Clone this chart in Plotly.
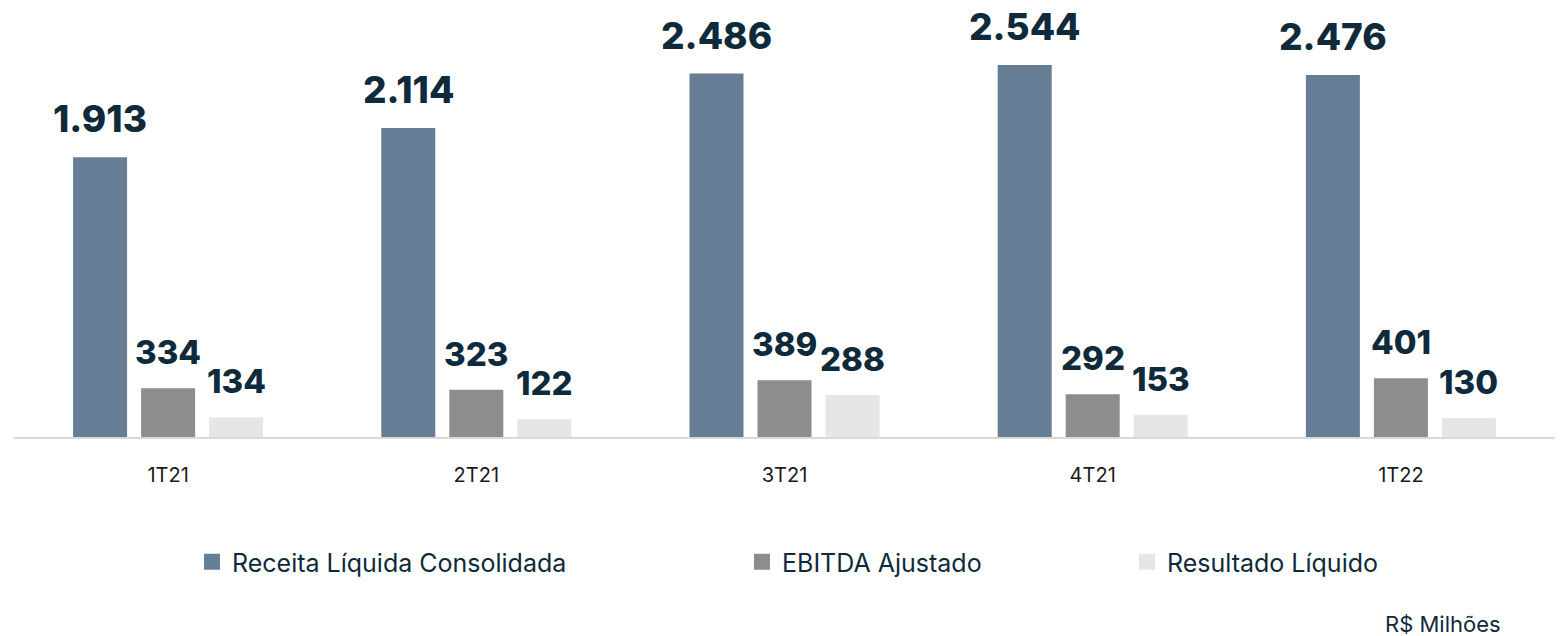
import plotly.graph_objects as go

categories = ["1T21", "2T21", "3T21", "4T21", "1T22"]
receita = [1913, 2114, 2486, 2544, 2476]
ebitda = [334, 323, 389, 292, 401]
resultado = [134, 122, 288, 153, 130]
series_names = ["Receita Líquida Consolidada", "EBITDA Ajustado", "Resultado Líquido"]
unit_label = "R$ Milhões"

colors = ["#657d95", "#8c8d8c", "#e6e6e6"]
label_sizes = [37, 33, 33]
navy = "#0e2a3b"
W, H = 1565, 636
ml, mr, mt, mb = 14, 10, 13, 199
plot_w = W - ml - mr
ph = H - mt - mb
bargap, groupgap = 0.338, 0.206

def fmt(v):
    return f"{v:,}".replace(",", ".")

fig = go.Figure()
all_series = [receita, ebitda, resultado]
for i, (name, vals) in enumerate(zip(series_names, all_series)):
    fig.add_trace(go.Bar(x=categories, y=vals, name=name, marker_color=colors[i],
                         marker_line_width=0, showlegend=False, hoverinfo="skip"))
    fig.add_trace(go.Scatter(x=[None], y=[None], mode="markers", name=name,
                             marker=dict(symbol="square", size=16, color=colors[i]),
                             legend=["legend", "legend2", "legend3"][i]))

cat_w = plot_w / len(categories)
slot = cat_w * (1 - bargap) / 3
annotations = []
for i, vals in enumerate(all_series):
    for c, v in zip(categories, vals):
        annotations.append(dict(x=c, y=v, xref="x", yref="y", text=fmt(v),
                                showarrow=False, yanchor="bottom", xshift=(i - 1) * slot,
                                yshift=14, font=dict(family="Inter, sans-serif", weight=800,
                                                     size=label_sizes[i], color=navy)))

def lx(px):
    return (px - ml) / plot_w

def ly(py):
    return (mt + ph - py) / ph

annotations.append(dict(x=lx(1503), y=ly(624), xref="paper", yref="paper", text=unit_label,
                        showarrow=False, xanchor="right", yanchor="middle",
                        font=dict(family="Inter, sans-serif", size=22, color=navy)))

legfont = dict(family="Inter, sans-serif", size=25, color=navy)
legs = {}
for key, px in zip(["legend", "legend2", "legend3"], [192, 742, 1127]):
    legs[key] = dict(x=lx(px), y=ly(562), xanchor="left", yanchor="middle",
                     orientation="h", font=legfont, bgcolor="rgba(0,0,0,0)",
                     itemwidth=30, tracegroupgap=0)

fig.update_layout(
    width=W, height=H, margin=dict(l=ml, r=mr, t=mt, b=mb),
    barmode="group", bargap=bargap, bargroupgap=groupgap,
    plot_bgcolor="white", paper_bgcolor="white",
    annotations=annotations,
    xaxis=dict(showline=True, linecolor="#d9d9d9", linewidth=2, ticks="",
               tickfont=dict(family="Inter, sans-serif", size=20, color="#1a1a1a"),
               ticklabelstandoff=19, showgrid=False),
    yaxis=dict(range=[0, 2900], visible=False, showgrid=False, zeroline=False),
    **legs,
)
fig.write_html("out.html", config={"displayModeBar": False},
               post_script="document.body.style.margin='0';")
